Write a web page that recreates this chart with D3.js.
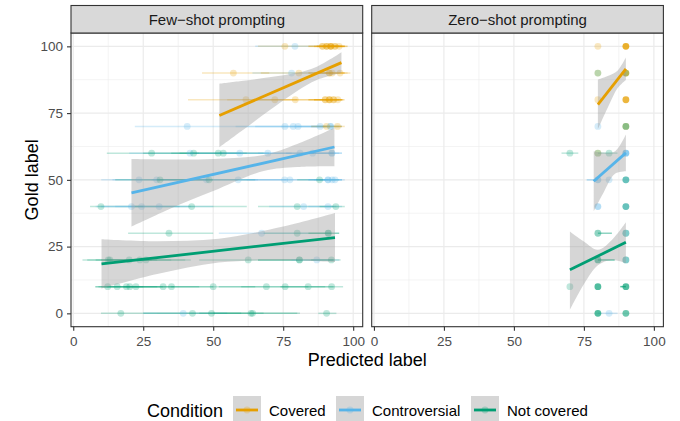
<!DOCTYPE html>
<meta charset="utf-8">
<style>
body { margin: 0; background: #fff; }
svg { font-family: "Liberation Sans", Arial, Helvetica, sans-serif; }
.tick text { fill: #4d4d4d; font-size: 13.5px; }
.tick line { stroke: #333; stroke-width: 1.1; }
</style>
<svg width="680" height="421"></svg>
<script src="https://d3js.org/d3.v7.min.js"></script>
<script>

var svg = d3.select("svg");

var facets = ["Few\u2212shot prompting", "Zero\u2212shot prompting"];
var conditions = ["Covered", "Controversial", "Not covered"];
var condColors = ["#E69F00", "#56B4E9", "#009E73"];
var xTicks = [0, 25, 50, 75, 100];
var yTicks = [0, 25, 50, 75, 100];
var xMinor = [12.5, 37.5, 62.5, 87.5];
var yMinor = [12.5, 37.5, 62.5, 87.5];

// [condition, predicted, gold, xmin, xmax, count]
var fewShot = [
  [0, 75.6, 100, 66, 86, 1], [1, 79.2, 100, 65, 90, 1], [0, 89, 100, 84, 95, 2],
  [0, 90.5, 100, 86, 96, 3], [0, 92, 100, 87, 97, 4], [0, 93.5, 100, 89, 98, 2], [0, 95, 100, 92, 97, 1],
  [0, 57.2, 90, 46, 70, 1], [1, 78, 90, 64, 92, 1], [0, 80.6, 90, 67, 93, 1],
  [0, 91.5, 90, 84, 97, 2], [0, 92.5, 90, 86, 98, 1], [0, 95.3, 90, 90, 99, 1],
  [0, 61.7, 80, 41, 80, 1], [0, 72, 80, 55, 88, 1], [0, 79.3, 80, 65, 92, 1], [0, 90, 80, 84, 95, 2],
  [0, 91.5, 80, 86, 96, 3], [0, 93, 80, 88, 96.5, 2], [0, 94.5, 80, 90, 97, 1],
  [1, 40.7, 70, 22, 62, 1], [1, 75.6, 70, 58, 90, 1], [1, 78.6, 70, 62, 92, 1], [1, 80.3, 70, 65, 93, 1],
  [1, 88.2, 70, 80, 95, 1], [1, 91.9, 70, 85, 96, 2], [0, 90.5, 70, 85, 96, 1], [0, 94.4, 70, 89, 97, 1],
  [2, 28, 60, 12, 45, 1], [1, 41.7, 60, 20, 60, 1], [2, 43, 60, 25, 62, 1], [2, 51.8, 60, 35, 68, 1],
  [2, 53.6, 60, 38, 70, 1], [1, 59.5, 60, 42, 78, 1], [1, 69.5, 60, 52, 86, 1], [1, 81, 60, 66, 93, 1],
  [1, 85.5, 60, 76, 95, 1], [1, 92.4, 60, 85, 96, 2],
  [1, 23.5, 50, 10, 40, 1], [1, 29.8, 50, 14, 48, 1], [2, 31, 50, 15, 50, 1], [1, 47.6, 50, 28, 66, 1],
  [2, 48.5, 50, 30, 65, 1], [1, 58.9, 50, 40, 76, 1], [1, 75.5, 50, 60, 90, 1], [1, 77.4, 50, 62, 91, 1],
  [2, 88, 50, 80, 95, 1], [1, 91, 50, 84, 96, 2], [1, 92.5, 50, 86, 96, 1], [1, 93.5, 50, 88, 97, 1],
  [2, 9.9, 40, 6, 25, 1], [1, 20.8, 40, 8, 38, 1], [1, 24.4, 40, 10, 42, 1], [1, 30.7, 40, 15, 50, 1],
  [2, 42.3, 40, 22, 62, 1], [2, 80, 40, 66, 93, 1], [1, 82.3, 40, 70, 94, 1], [1, 91, 40, 84, 96, 1],
  [2, 93.8, 40, 88, 97, 1],
  [2, 34.2, 30, 19.6, 50, 1], [1, 67.3, 30, 52, 84, 1], [2, 80, 30, 68, 92, 1], [2, 91.1, 30, 84, 95, 2],
  [2, 12.5, 20, 3.3, 28, 1], [2, 13.1, 20, 5, 30, 1], [2, 20, 20, 8, 35, 1], [2, 23.8, 20, 10, 40, 1],
  [2, 26, 20, 12, 42, 1], [2, 62.5, 20, 45, 80, 1], [2, 80.8, 20, 66, 93, 2], [1, 87, 20, 78, 95, 1],
  [2, 92.2, 20, 85, 95.5, 1],
  [2, 12.3, 10, 7.8, 20, 1], [2, 15.7, 10, 8, 25, 1], [2, 19, 10, 9, 30, 1], [2, 20.2, 10, 10, 32, 1],
  [2, 22.4, 10, 12, 36, 1], [2, 32.1, 10, 18, 45, 1], [2, 35.1, 10, 20, 50, 1], [2, 50, 10, 35, 65, 1],
  [2, 69, 10, 52, 84, 1], [2, 75.7, 10, 60, 90, 1], [2, 83.9, 10, 74, 93, 1], [2, 92.3, 10, 85, 96.4, 1],
  [2, 17, 0, 9.9, 30, 1], [1, 39.3, 0, 25, 55, 1], [2, 42.6, 0, 25, 60, 1], [2, 49.4, 0, 30, 68, 1],
  [2, 63.5, 0, 45, 81, 1], [2, 64.1, 0, 50, 80, 1], [2, 90.5, 0, 87.5, 94, 1]
];

var zeroShot = [
  [0, 80, 100, 80, 80, 1], [0, 90, 100, 90, 90, 6],
  [0, 80, 90, 80, 80, 1], [2, 80, 90, 80, 80, 1], [0, 90, 90, 90, 90, 4], [2, 90, 90, 90, 90, 1],
  [0, 80, 80, 80, 80, 1], [0, 90, 80, 90, 90, 5],
  [1, 80, 70, 80, 80, 1], [0, 90, 70, 90, 90, 2], [2, 90, 70, 90, 90, 2],
  [2, 70, 60, 67, 73, 1], [0, 80, 60, 80, 80, 1], [2, 80, 60, 80, 80, 1], [2, 84, 60, 80, 87, 1], [1, 90, 60, 90, 90, 4],
  [1, 80, 50, 76, 80, 2], [1, 84, 50, 84, 84, 1], [2, 90, 50, 90, 90, 3], [1, 90, 50, 90, 90, 1],
  [1, 80, 40, 80, 80, 2], [2, 90, 40, 90, 90, 3], [1, 90, 40, 90, 90, 1],
  [2, 80, 30, 80, 85, 2], [2, 90, 30, 90, 90, 2], [1, 90, 30, 90, 90, 1],
  [2, 80, 20, 80, 86, 3], [2, 90, 20, 90, 90, 2], [1, 90, 20, 90, 90, 1],
  [2, 70, 10, 70, 70, 1], [2, 80, 10, 80, 80, 4], [2, 90, 10, 88, 90, 4],
  [2, 80, 0, 80, 80, 4], [1, 84, 0, 80, 87, 1], [2, 90, 0, 90, 90, 3]
];

// fitted lines: [condition, xStart, yStart, xEnd, yEnd]
var fewLines = [[0, 52.2, 74.1, 95.8, 93.9], [1, 20.8, 45.1, 93.3, 62.3], [2, 10.1, 18.5, 93.5, 28.4]];
var zeroLines = [[0, 80, 78.2, 90, 91.6], [1, 78.5, 49.5, 90, 60.1], [2, 70, 16.3, 90, 26.6]];

// confidence bands per condition: [x, lower, upper]
var fewBands = [
  [[52.2, 62.2, 86.0], [60, 68.2, 87.0], [70, 76.0, 88.4], [80, 83.3, 90.1], [87, 87.4, 92.4], [95.8, 90.0, 97.8]],
  [[20.8, 32.5, 57.8], [35, 39.4, 57.6], [50, 45.8, 57.8], [68, 53.3, 59.3], [80, 54.8, 63.4], [93.3, 55.1, 69.5]],
  [[10.1, 9.25, 27.75], [30, 14.7, 27.0], [52, 19.0, 27.9], [75, 19.9, 32.5], [93.5, 19.2, 37.6]]
];
var zeroBands = [
  [[80, 68.9, 87.6], [84, 78.1, 89.1], [87, 84.3, 90.9], [90, 87.4, 95.8]],
  [[78.5, 38.2, 60.7], [82, 45.2, 60.2], [86, 52.2, 60.6], [90, 53.2, 67.0]],
  [[70, 1.3, 30.7], [75, 10.9, 26.9], [80, 18.0, 23.8], [85, 20.0, 27.5], [90, 18.8, 34.1]]
];

var panelData = [
  {points: fewShot, lines: fewLines, bands: fewBands},
  {points: zeroShot, lines: zeroLines, bands: zeroBands}
];

svg.append("rect").attr("width", 680).attr("height", 421).attr("fill", "#fff");

var panelTop = 33, panelH = 293.7, panelW = 291.7, stripTop = 5.5;
var panelX = [71, 371.7];

var x = d3.scaleLinear().domain([-0.8, 103.4]).range([0, panelW]);
var y = d3.scaleLinear().domain([-5, 105]).range([panelH, 0]);

facets.forEach(function(name, i) {
  var g = svg.append("g").attr("transform", "translate(" + panelX[i] + "," + panelTop + ")");
  var pd = panelData[i];

  // grid
  g.selectAll(".xminor").data(xMinor).enter().append("line")
      .attr("x1", d => x(d)).attr("x2", d => x(d)).attr("y1", 0).attr("y2", panelH)
      .attr("stroke", "#ebebeb").attr("stroke-width", 0.6);
  g.selectAll(".yminor").data(yMinor).enter().append("line")
      .attr("y1", d => y(d)).attr("y2", d => y(d)).attr("x1", 0).attr("x2", panelW)
      .attr("stroke", "#ebebeb").attr("stroke-width", 0.6);
  g.selectAll(".xmajor").data(xTicks).enter().append("line")
      .attr("x1", d => x(d)).attr("x2", d => x(d)).attr("y1", 0).attr("y2", panelH)
      .attr("stroke", "#ebebeb").attr("stroke-width", 1.2);
  g.selectAll(".ymajor").data(yTicks).enter().append("line")
      .attr("y1", d => y(d)).attr("y2", d => y(d)).attr("x1", 0).attr("x2", panelW)
      .attr("stroke", "#ebebeb").attr("stroke-width", 1.2);

  // error bars
  g.append("g").selectAll("line").data(pd.points.filter(d => d[4] > d[3])).enter().append("line")
      .attr("x1", d => x(d[3])).attr("x2", d => x(d[4]))
      .attr("y1", d => y(d[2])).attr("y2", d => y(d[2]))
      .attr("stroke", d => condColors[d[0]])
      .attr("stroke-opacity", d => 1 - Math.pow(0.75, d[5]))
      .attr("stroke-width", 1.5);

  // points
  g.append("g").selectAll("circle").data(pd.points).enter().append("circle")
      .attr("cx", d => x(d[1])).attr("cy", d => y(d[2])).attr("r", 3.4)
      .attr("fill", d => condColors[d[0]])
      .attr("fill-opacity", d => 1 - Math.pow(0.75, d[5]));

  // smooths
  var area = d3.area().curve(d3.curveCatmullRom)
      .x(d => x(d[0])).y0(d => y(d[1])).y1(d => y(d[2]));
  pd.bands.forEach(function(b, c) {
    g.append("path").attr("d", area(b)).attr("fill", "#999999").attr("fill-opacity", 0.4);
    var l = pd.lines[c];
    g.append("line")
        .attr("x1", x(l[1])).attr("y1", y(l[2])).attr("x2", x(l[3])).attr("y2", y(l[4]))
        .attr("stroke", condColors[l[0]]).attr("stroke-width", 2.8);
  });

  // border
  g.append("rect").attr("width", panelW).attr("height", panelH)
      .attr("fill", "none").attr("stroke", "#333").attr("stroke-width", 1.1);

  // strip
  svg.append("rect").attr("x", panelX[i]).attr("y", stripTop)
      .attr("width", panelW).attr("height", panelTop - stripTop)
      .attr("fill", "#d9d9d9").attr("stroke", "#333").attr("stroke-width", 1.1);
  svg.append("text").attr("x", panelX[i] + panelW / 2).attr("y", stripTop + (panelTop - stripTop) / 2 + 5.3)
      .attr("text-anchor", "middle").attr("font-size", "15px").attr("fill", "#1a1a1a").text(name);

  // x axis
  var xa = svg.append("g").attr("transform", "translate(" + panelX[i] + "," + (panelTop + panelH) + ")")
      .call(d3.axisBottom(x).tickValues(xTicks).tickSize(4).tickPadding(6));
  xa.select(".domain").remove();
});

// y axis
var ya = svg.append("g").attr("transform", "translate(" + panelX[0] + "," + panelTop + ")")
    .call(d3.axisLeft(y).tickValues(yTicks).tickSize(4).tickPadding(4));
ya.select(".domain").remove();

// axis titles
svg.append("text").attr("transform", "translate(37.5," + (panelTop + panelH / 2) + ") rotate(-90)")
    .attr("text-anchor", "middle").attr("font-size", "18px").text("Gold label");
svg.append("text").attr("x", (panelX[0] + panelX[1] + panelW) / 2).attr("y", 366)
    .attr("text-anchor", "middle").attr("font-size", "18px").text("Predicted label");

// legend
var legend = svg.append("g");
legend.append("text").attr("x", 147).attr("y", 416.5).attr("font-size", "18px").text("Condition");
var keyX = [233, 336, 471];
conditions.forEach(function(c, i) {
  var k = legend.append("g").attr("transform", "translate(" + keyX[i] + ",396)");
  k.append("rect").attr("width", 28).attr("height", 28).attr("fill", "#d6d6d6");
  k.append("line").attr("x1", 3).attr("x2", 25).attr("y1", 14).attr("y2", 14)
      .attr("stroke", condColors[i]).attr("stroke-width", 2.8);
  k.append("circle").attr("cx", 14).attr("cy", 14).attr("r", 3.4)
      .attr("fill", condColors[i]).attr("fill-opacity", 0.25);
  legend.append("text").attr("x", keyX[i] + 36).attr("y", 416).attr("font-size", "15px").text(c);
});

</script>
